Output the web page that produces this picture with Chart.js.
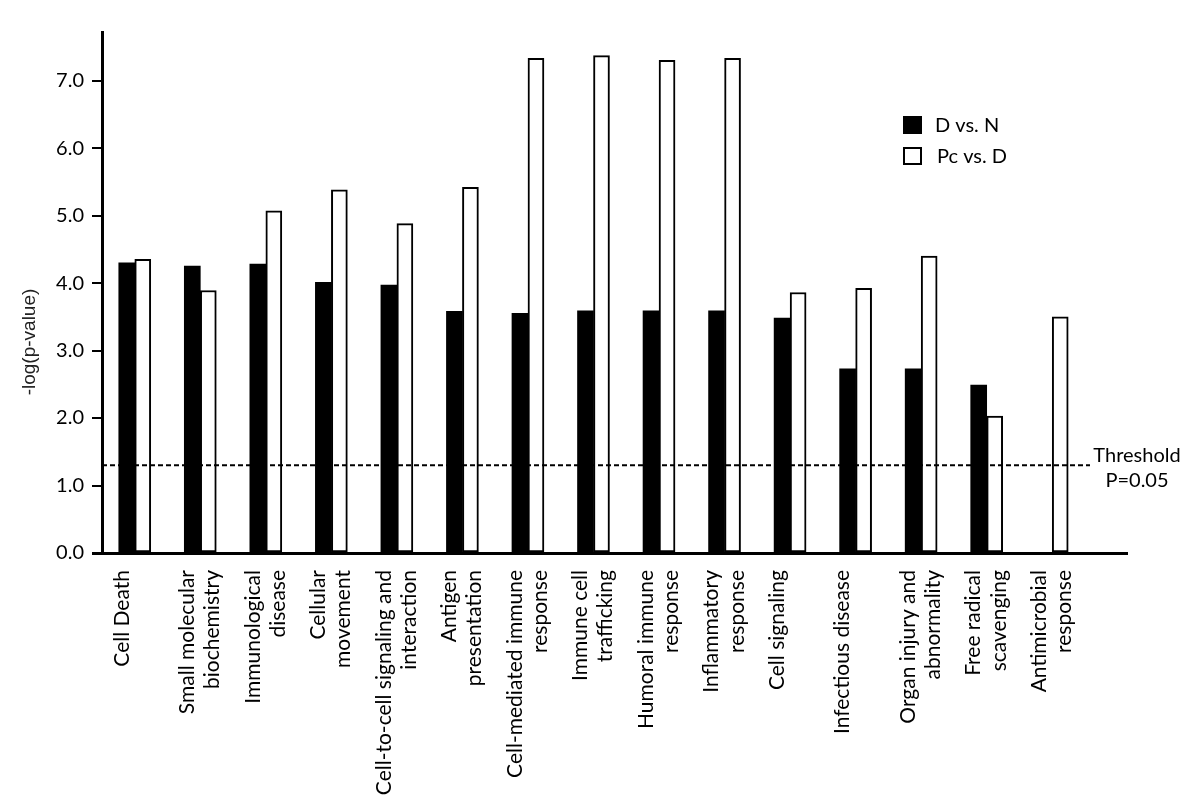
<!DOCTYPE html>
<html>
<head>
<meta charset="utf-8">
<script src="https://cdn.jsdelivr.net/npm/chart.js@4.4.0/dist/chart.umd.min.js"></script>
<style>
  html, body { margin: 0; padding: 0; background: #fff; }
  #wrap { width: 1200px; height: 800px; }
</style>
</head>
<body>
<div id="wrap"><canvas id="chart" width="1200" height="800"></canvas></div>
<script>
const categories = [
    'Cell Death',
    ['Small molecular', 'biochemistry'],
    ['Immunological', 'disease'],
    ['Cellular', 'movement'],
    ['Cell-to-cell signaling and', 'interaction'],
    ['Antigen', 'presentation'],
    ['Cell-mediated immune', 'response'],
    ['Immune cell', 'trafficking'],
    ['Humoral immune', 'response'],
    ['Inflammatory', 'response'],
    'Cell signaling',
    'Infectious disease',
    ['Organ injury and', 'abnormality'],
    ['Free radical', 'scavenging'],
    ['Antimicrobial', 'response']
];
const seriesNames = ['D vs. N', 'Pc vs. D'];
const dVsN = [4.30, 4.25, 4.28, 4.01, 3.97, 3.58, 3.55, 3.59, 3.59, 3.59, 3.48, 2.73, 2.73, 2.49, 0];
const pcVsD = [4.35, 3.89, 5.07, 5.38, 4.88, 5.42, 7.33, 7.37, 7.30, 7.33, 3.86, 3.92, 4.40, 2.03, 3.50];
const yTicks = [0, 1, 2, 3, 4, 5, 6, 7];
const threshold = 1.3;
const thresholdLabel = ['Threshold', 'P=0.05'];
const yTitle = '-log(p-value)';

const labelFont = '20px Lato';

// legend, threshold line + text, y title, long x baseline
const extras = {
    id: 'extras',
    afterDatasetsDraw(chart) {
        const { ctx, chartArea, scales: { y } } = chart;
        const base = y.getPixelForValue(0);
        const ty = y.getPixelForValue(threshold);
        ctx.save();

        ctx.strokeStyle = '#000';
        ctx.setLineDash([5, 3]);
        ctx.lineWidth = 1.8;
        ctx.beginPath();
        ctx.moveTo(chartArea.left, ty);
        ctx.lineTo(chartArea.right + 5, ty);
        ctx.stroke();
        ctx.setLineDash([]);

        ctx.lineWidth = 3;
        ctx.beginPath();
        ctx.moveTo(92, base + 0.5);
        ctx.lineTo(1128, base + 0.5);
        ctx.stroke();

        ctx.fillStyle = '#000';
        ctx.font = labelFont;
        ctx.textAlign = 'center';
        ctx.textBaseline = 'middle';
        ctx.fillText(thresholdLabel[0], 1137, ty - 10);
        ctx.fillText(thresholdLabel[1], 1137, ty + 15);

        // legend
        chart.data.datasets.forEach((d, i) => {
            const yy = 117 + i * 31;
            ctx.fillStyle = d.backgroundColor;
            ctx.fillRect(904, yy, 17, 16);
            ctx.lineWidth = 2;
            ctx.strokeStyle = '#000';
            ctx.strokeRect(904, yy, 17, 16);
            ctx.fillStyle = '#000';
            ctx.textAlign = 'left';
            ctx.fillText(d.label, 935 + i * 2, yy + 9);
        });

        // y title, sits lower than the axis middle in the original
        ctx.translate(30, 342);
        ctx.rotate(-Math.PI / 2);
        ctx.textAlign = 'center';
        ctx.fillStyle = '#222';
        ctx.font = '19px "Liberation Sans"';
        ctx.fillText(yTitle, 0, 0);
        ctx.restore();
    }
};

function draw() {
    new Chart(document.getElementById('chart'), {
        type: 'bar',
        data: {
            labels: categories,
            datasets: [
                {
                    label: seriesNames[0],
                    data: dVsN,
                    backgroundColor: '#000',
                    borderColor: '#000',
                    borderWidth: 0,
                    barThickness: 16
                },
                {
                    label: seriesNames[1],
                    data: pcVsD,
                    backgroundColor: '#fff',
                    borderColor: '#000',
                    borderWidth: 2,
                    borderSkipped: false,
                    barThickness: 16
                }
            ]
        },
        options: {
            responsive: false,
            animation: false,
            layout: { padding: { top: 32, right: 115, left: 0, bottom: 0 } },
            plugins: {
                legend: { display: false },
                tooltip: { enabled: false }
            },
            scales: {
                x: {
                    grid: { display: false },
                    border: { display: false },
                    ticks: {
                        autoSkip: false,
                        minRotation: 90,
                        maxRotation: 90,
                        color: '#000',
                        font: { family: 'Lato', size: 21 },
                        labelOffset: -13,
                        padding: 9
                    },
                    afterFit(s) { s.height = 247; }
                },
                y: {
                    min: 0,
                    max: 7.72,
                    afterBuildTicks(s) { s.ticks = yTicks.map(v => ({ value: v })); },
                    grid: { drawOnChartArea: false, drawTicks: true, tickLength: 10, color: '#000', lineWidth: 2 },
                    border: { display: true, color: '#000', width: 3 },
                    ticks: {
                        color: '#000',
                        font: { family: 'Lato', size: 20 },
                        padding: 8,
                        callback: v => v.toFixed(1)
                    },
                    afterFit(s) { s.width = 102; }
                }
            }
        },
        plugins: [extras]
    });
}

Promise.all([
    document.fonts.load('20px Lato'),
    document.fonts.load('19px "Liberation Sans"')
]).then(draw, draw);
</script>
</body>
</html>
